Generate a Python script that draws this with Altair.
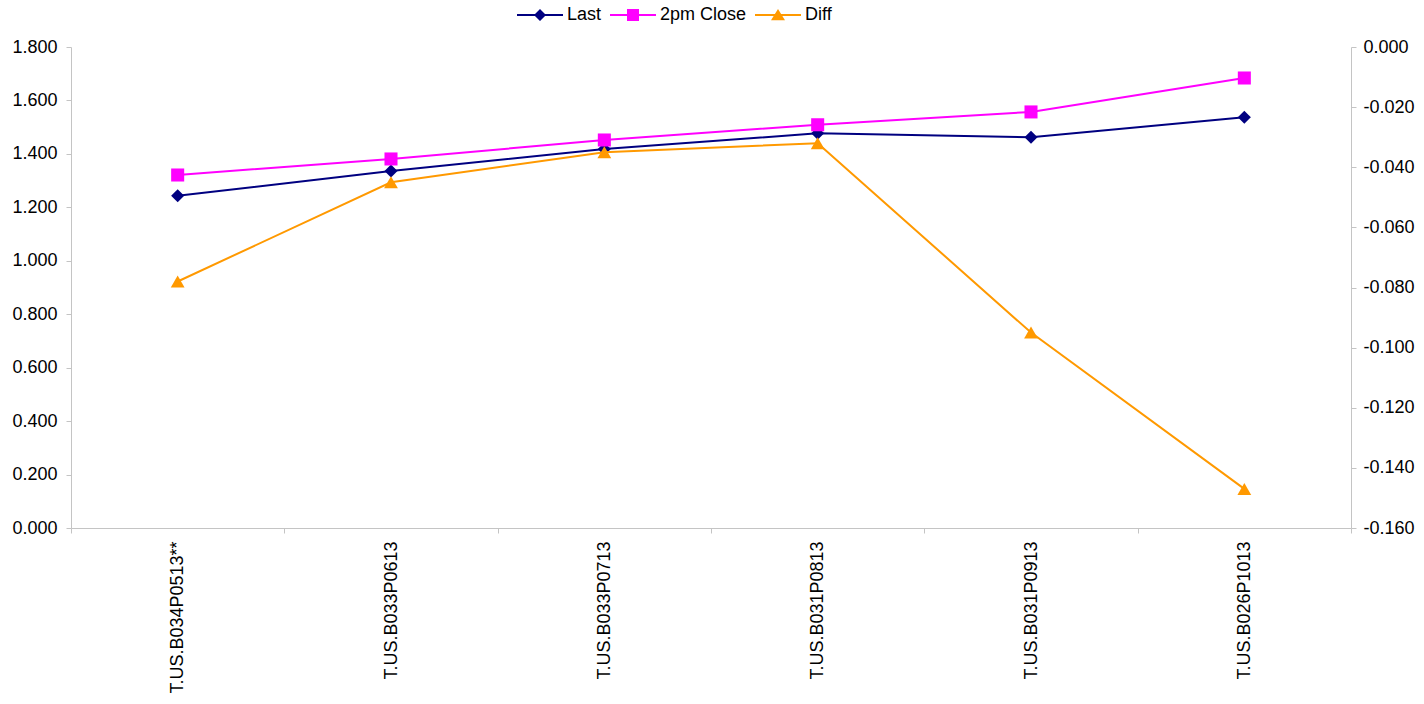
import altair as alt
import pandas as pd

categories = ["T.US.B034P0513**", "T.US.B033P0613", "T.US.B033P0713",
              "T.US.B031P0813", "T.US.B031P0913", "T.US.B026P1013"]
last = [1.243, 1.336, 1.418, 1.477, 1.462, 1.537]
close_2pm = [1.321, 1.381, 1.452, 1.509, 1.557, 1.684]
diff = [-0.078, -0.045, -0.035, -0.032, -0.095, -0.147]

series_names = ["Last", "2pm Close", "Diff"]
series_colors = ["#000080", "#FF00FF", "#FF9900"]

rows = []
for c, a, b, d in zip(categories, last, close_2pm, diff):
    rows.append({"cat": c, "series": "Last", "value": a})
    rows.append({"cat": c, "series": "2pm Close", "value": b})
    rows.append({"cat": c, "series": "Diff", "value": d})
df = pd.DataFrame(rows)

FONT = "Liberation Sans"
GREY = "#C4C4C4"
FS = 18

x_enc = alt.X("cat:N", sort=categories, title=None,
              scale=alt.Scale(type="band", paddingInner=0, paddingOuter=0),
              axis=alt.Axis(labelAngle=270, tickBand="extent", labelFontSize=FS,
                            labelFont=FONT, labelColor="black", domainColor=GREY,
                            tickColor=GREY, tickSize=5, labelPadding=8))

color_enc = alt.Color("series:N", scale=alt.Scale(domain=series_names, range=series_colors))

left_axis = alt.Axis(format=".3f", values=[round(0.2 * i, 1) for i in range(10)],
                     labelFontSize=FS, labelFont=FONT, labelColor="black",
                     domainColor=GREY, tickColor=GREY, tickSize=5, labelPadding=9,
                     grid=False, title=None)
right_axis = alt.Axis(orient="right", values=[round(-0.02 * i, 2) for i in range(9)],
                      labelExpr="replace(format(datum.value, '.3f'), '\u2212', '-')",
                      labelFontSize=FS, labelFont=FONT, labelColor="black",
                      domainColor=GREY, tickColor=GREY, tickSize=5, labelPadding=7,
                      grid=False, title=None)

y_left = alt.Y("value:Q", scale=alt.Scale(domain=[0, 1.8], nice=False, zero=False), axis=left_axis)
y_right = alt.Y("value:Q", scale=alt.Scale(domain=[-0.16, 0], nice=False, zero=False), axis=right_axis)

base = alt.Chart(df)
left_df = base.transform_filter("datum.series != 'Diff'")
right_df = base.transform_filter("datum.series == 'Diff'")

left_line = left_df.mark_line(strokeWidth=2).encode(x=x_enc, y=y_left, color=color_enc,
                                                     detail="series:N")
pts_last = base.transform_filter("datum.series == 'Last'").mark_point(
    shape="diamond", filled=True, size=170, opacity=1).encode(x=x_enc, y=y_left, color=color_enc)
pts_close = base.transform_filter("datum.series == '2pm Close'").mark_point(
    shape="square", filled=True, size=170, opacity=1).encode(x=x_enc, y=y_left, color=color_enc)
left_layer = alt.layer(left_line, pts_last, pts_close)

right_line = right_df.mark_line(strokeWidth=2).encode(x=x_enc, y=y_right, color=color_enc)
pts_diff = right_df.mark_point(shape="triangle-up", filled=True, size=190, opacity=1).encode(
    x=x_enc, y=y_right, color=color_enc)
right_layer = alt.layer(right_line, pts_diff)

# legend symbols: line segment + marker as one filled path
sym_diamond = "M-4.6,-0.2H4.6V0.2H-4.6Z M0,-1.2L1.2,0L0,1.2L-1.2,0Z"
sym_square = "M-4.6,-0.2H4.6V0.2H-4.6Z M-1.2,-1.2H1.2V1.2H-1.2Z"
sym_triangle = "M-4.6,-0.2H4.6V0.2H-4.6Z M0,-1.2L1.4,1.05H-1.4Z"

legend_layer = base.mark_point(filled=True, opacity=0).encode(
    x=x_enc,
    y=alt.value(0),
    color=color_enc,
    shape=alt.Shape("series:N", scale=alt.Scale(domain=series_names,
                                                range=[sym_diamond, sym_square, sym_triangle]),
                    legend=alt.Legend(title=None)),
)

chart = alt.layer(left_layer, right_layer, legend_layer).resolve_scale(
    y="independent"
).properties(
    width=1280, height=481,
    autosize=alt.AutoSizeParams(type="none"),
    padding={"left": 71, "top": 47, "right": 73, "bottom": 176},
).configure_view(stroke=None).configure_legend(
    orient="none", direction="horizontal", legendX=460, legendY=-41,
    symbolSize=100, symbolStrokeWidth=0, symbolOpacity=1,
    labelFontSize=FS, labelFont=FONT, labelColor="black",
    labelOffset=18, columnPadding=8, padding=0,
)

chart.save("out.html", embed_options={"renderer": "svg", "actions": False})
